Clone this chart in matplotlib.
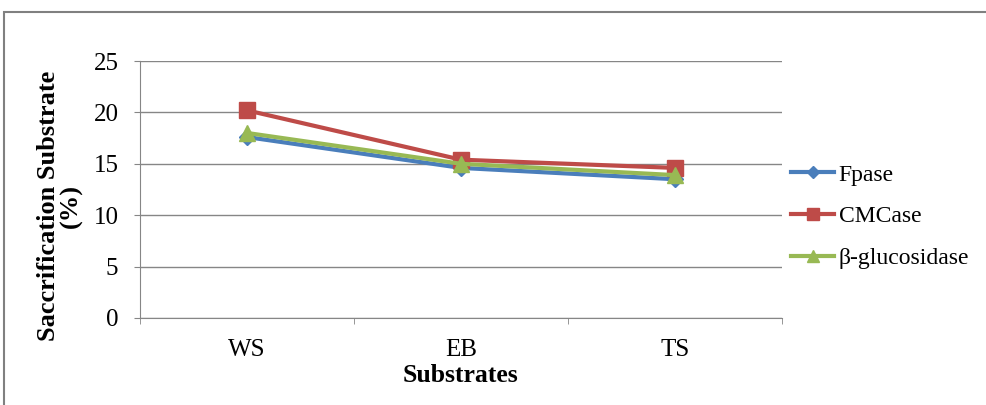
import matplotlib
matplotlib.use("Agg")
import matplotlib.pyplot as plt
from matplotlib.patches import Rectangle

substrates = ["WS", "EB", "TS"]
fpase = [17.6, 14.6, 13.5]
cmcase = [20.2, 15.4, 14.6]
glucosidase = [18.0, 15.0, 13.9]

plt.rcParams['font.family'] = ['Liberation Serif', 'DejaVu Serif']

fig = plt.figure(figsize=(9.87, 4.05), dpi=100)
# outer chart border
fig.patches.append(Rectangle((4 / 987, -0.1), 1.1, 1 - 12 / 405 + 0.1, transform=fig.transFigure,
                             fill=False, edgecolor='#808080', linewidth=1.5))

ax = fig.add_axes([140 / 987, 1 - 318 / 405, 642 / 987, 257 / 405])
x = range(len(substrates))
ax.plot(x, fpase, color='#4a7ebb', marker='D', markersize=8, linewidth=3, label='Fpase')
ax.plot(x, cmcase, color='#be4b48', marker='s', markersize=11, linewidth=3, label='CMCase')
ax.plot(x, glucosidase, color='#98b954', marker='^', markersize=11, linewidth=3, label='β-glucosidase')

ax.set_xlim(-0.5, 2.5)
ax.set_ylim(0, 25)
ax.set_yticks(range(0, 26, 5))
ax.set_xticks(list(x))
ax.set_xticklabels(substrates)
ax.set_xticks([-0.5, 0.5, 1.5, 2.5], minor=True)
ax.tick_params(axis='x', which='major', length=0, labelsize=18, pad=15)
ax.tick_params(axis='x', which='minor', length=4.5, color='#868686', direction='out')
ax.tick_params(axis='y', length=4.5, color='#868686', labelsize=18, pad=11)
ax.yaxis.grid(True, color='#868686', linewidth=1)
ax.set_axisbelow(True)
for s in ['top', 'right']:
    ax.spines[s].set_visible(False)
for s in ['left', 'bottom']:
    ax.spines[s].set_color('#868686')

ax.set_xlabel('Substrates', fontsize=18.5, fontweight='bold', labelpad=2)
ax.set_ylabel('Saccrification Substrate\n(%)', fontsize=19, fontweight='bold',
              linespacing=0.95)
ax.yaxis.set_label_coords(-0.089, 0.436)

ax.legend(loc='center left', bbox_to_anchor=(1.0, 0.395), borderaxespad=0, frameon=False,
          fontsize=17, handlelength=1.8, labelspacing=0.85, handletextpad=0.2, markerscale=0.8)

fig.savefig('out.png', dpi=100)
